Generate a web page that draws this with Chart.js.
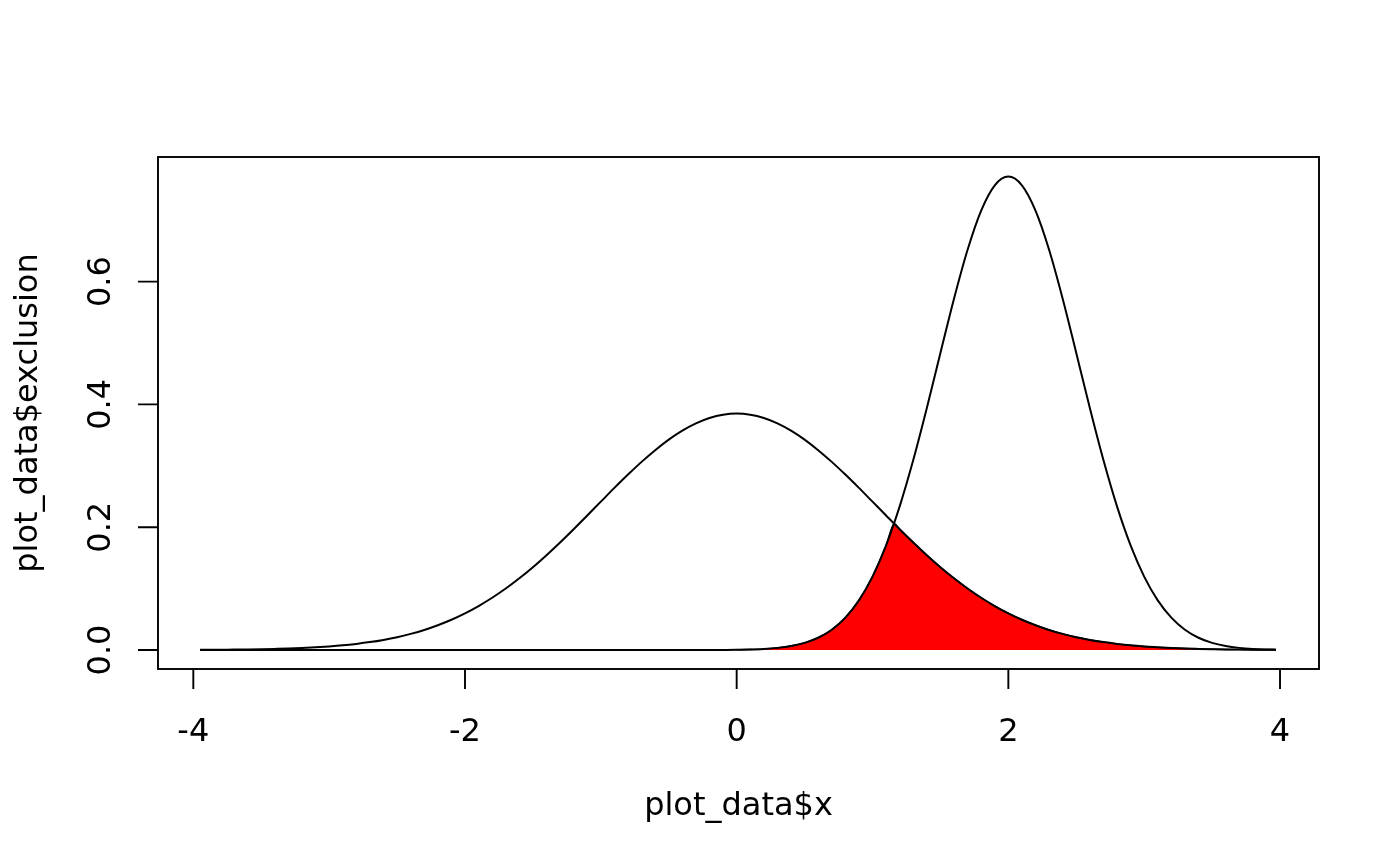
<!DOCTYPE html>
<html>
<head>
<meta charset="utf-8">
<title>plot_data$exclusion</title>
<script src="https://cdn.jsdelivr.net/npm/chart.js@4.4.1/dist/chart.umd.min.js"></script>
<style>
    html, body { margin: 0; padding: 0; background: #fff; }
    canvas { display: block; }
</style>
</head>
<body>
<canvas id="densityChart" width="1400" height="866"></canvas>
<script>
const xs = [
    -3.95, -3.9, -3.8, -3.7, -3.6, -3.5, -3.4, -3.3, -3.2, -3.1,
    -3.0, -2.9, -2.8, -2.7, -2.6, -2.5, -2.4, -2.3, -2.2, -2.1,
    -2.0, -1.9, -1.8, -1.7, -1.6, -1.5, -1.4, -1.3, -1.2, -1.1,
    -1.0, -0.9, -0.8, -0.7, -0.6, -0.5, -0.4, -0.3, -0.2, -0.1,
    0.0, 0.1, 0.2, 0.3, 0.4, 0.5, 0.6, 0.7, 0.8, 0.9,
    1.0, 1.1, 1.2, 1.3, 1.4, 1.5, 1.6, 1.7, 1.8, 1.9,
    2.0, 2.1, 2.2, 2.3, 2.4, 2.5, 2.6, 2.7, 2.8, 2.9,
    3.0, 3.1, 3.2, 3.3, 3.4, 3.5, 3.6, 3.7, 3.8, 3.9,
    3.97
];

// wide curve centred on 0
const wideCurve = [
    0.0003, 0.0003, 0.0005, 0.0007, 0.0009, 0.0013, 0.0018, 0.0024, 0.0033, 0.0044,
    0.0058, 0.0076, 0.0100, 0.0129, 0.0165, 0.0209, 0.0263, 0.0327, 0.0404, 0.0493,
    0.0597, 0.0716, 0.0851, 0.1001, 0.1168, 0.1349, 0.1545, 0.1752, 0.1968, 0.2191,
    0.2416, 0.2640, 0.2857, 0.3064, 0.3255, 0.3427, 0.3573, 0.3692, 0.3779, 0.3832,
    0.3850, 0.3832, 0.3779, 0.3692, 0.3573, 0.3427, 0.3255, 0.3064, 0.2857, 0.2640,
    0.2416, 0.2191, 0.1968, 0.1752, 0.1545, 0.1349, 0.1168, 0.1001, 0.0851, 0.0716,
    0.0597, 0.0493, 0.0404, 0.0327, 0.0263, 0.0209, 0.0165, 0.0129, 0.0100, 0.0076,
    0.0058, 0.0044, 0.0033, 0.0024, 0.0018, 0.0013, 0.0009, 0.0007, 0.0005, 0.0003,
    0.0003
];

// narrow curve centred on 2
const narrowCurve = [
    0, 0, 0, 0, 0, 0, 0, 0, 0, 0,
    0, 0, 0, 0, 0, 0, 0, 0, 0, 0,
    0, 0, 0, 0, 0, 0, 0, 0, 0, 0,
    0, 0, 0, 0, 0, 0, 0, 0, 0.0001, 0.0002,
    0.0004, 0.0009, 0.0018, 0.0035, 0.0065, 0.0116, 0.0200, 0.0330, 0.0527, 0.0808,
    0.1195, 0.1704, 0.2339, 0.3093, 0.3941, 0.4838, 0.5722, 0.6519, 0.7156, 0.7568,
    0.7710, 0.7568, 0.7156, 0.6519, 0.5722, 0.4838, 0.3941, 0.3093, 0.2339, 0.1704,
    0.1195, 0.0808, 0.0527, 0.0330, 0.0200, 0.0116, 0.0065, 0.0035, 0.0018, 0.0009,
    0.0006
];

// red overlap area (exclusion), with the crossing point at 1.16
const exclusionX = [
    0.0, 0.1, 0.2, 0.3, 0.4, 0.5, 0.6, 0.7, 0.8, 0.9, 1.0, 1.1, 1.16,
    1.2, 1.3, 1.4, 1.5, 1.6, 1.7, 1.8, 1.9,
    2.0, 2.1, 2.2, 2.3, 2.4, 2.5, 2.6, 2.7, 2.8, 2.9,
    3.0, 3.1, 3.2, 3.3, 3.4, 3.5, 3.6, 3.7, 3.8, 3.9, 3.97
];
const exclusionY = [
    0.0004, 0.0009, 0.0018, 0.0035, 0.0065, 0.0116, 0.0200, 0.0330, 0.0527, 0.0808, 0.1195, 0.1704, 0.2057,
    0.1968, 0.1752, 0.1545, 0.1349, 0.1168, 0.1001, 0.0851, 0.0716,
    0.0597, 0.0493, 0.0404, 0.0327, 0.0263, 0.0209, 0.0165, 0.0129, 0.0100, 0.0076,
    0.0058, 0.0044, 0.0033, 0.0024, 0.0018, 0.0013, 0.0009, 0.0007, 0.0005, 0.0003, 0.0003
];

// tick labels
const xTicks = [-4, -2, 0, 2, 4];
const yTicks = [0, 0.2, 0.4, 0.6];
const xTitle = 'plot_data$x';
const yTitle = 'plot_data$exclusion';

const FONT = '32px "DejaVu Sans", sans-serif';

function toPoints(xv, yv) {
    return xv.map((x, i) => ({ x: x, y: yv[i] }));
}

// R style box, ticks and labels
const baseAxes = {
    id: 'baseAxes',
    afterDraw(chart) {
        const ctx = chart.ctx;
        const area = chart.chartArea;
        const xScale = chart.scales.x;
        const yScale = chart.scales.y;

        ctx.save();
        ctx.strokeStyle = '#000';
        ctx.lineWidth = 1.9;
        ctx.strokeRect(area.left, area.top, area.right - area.left, area.bottom - area.top);

        // x axis ticks
        ctx.beginPath();
        xTicks.forEach(t => {
            const px = xScale.getPixelForValue(t);
            ctx.moveTo(px, area.bottom);
            ctx.lineTo(px, area.bottom + 20);
        });
        // y axis ticks
        yTicks.forEach(t => {
            const py = yScale.getPixelForValue(t);
            ctx.moveTo(area.left, py);
            ctx.lineTo(area.left - 20, py);
        });
        ctx.stroke();

        ctx.fillStyle = '#000';
        ctx.font = FONT;
        ctx.textAlign = 'center';
        ctx.textBaseline = 'alphabetic';
        xTicks.forEach(t => {
            ctx.fillText(String(t), xScale.getPixelForValue(t), 741);
        });
        ctx.fillText(xTitle, (area.left + area.right) / 2, 815);

        yTicks.forEach(t => {
            ctx.save();
            ctx.translate(110, yScale.getPixelForValue(t));
            ctx.rotate(-Math.PI / 2);
            ctx.fillText(t.toFixed(1), 0, 0);
            ctx.restore();
        });

        ctx.save();
        ctx.translate(37, (area.top + area.bottom) / 2);
        ctx.rotate(-Math.PI / 2);
        ctx.fillText(yTitle, 0, 0);
        ctx.restore();

        ctx.restore();
    }
};

const ctx = document.getElementById('densityChart').getContext('2d');

new Chart(ctx, {
    type: 'line',
    data: {
        datasets: [
            {
                label: 'wide',
                data: toPoints(xs, wideCurve),
                borderColor: '#000',
                borderWidth: 2,
                pointRadius: 0,
                fill: false,
                cubicInterpolationMode: 'monotone',
                order: 1
            },
            {
                label: 'narrow',
                data: toPoints(xs, narrowCurve),
                borderColor: '#000',
                borderWidth: 2,
                pointRadius: 0,
                fill: false,
                cubicInterpolationMode: 'monotone',
                order: 1
            },
            {
                label: 'exclusion',
                data: toPoints(exclusionX, exclusionY),
                borderColor: '#000',
                borderWidth: 1.4,
                backgroundColor: '#ff0000',
                pointRadius: 0,
                fill: 'origin',
                cubicInterpolationMode: 'monotone',
                order: 2
            }
        ]
    },
    options: {
        responsive: false,
        devicePixelRatio: 1,
        animation: false,
        layout: {
            padding: { left: 158, right: 81, top: 157, bottom: 197 }
        },
        plugins: {
            legend: { display: false },
            tooltip: { enabled: false },
            title: { display: false }
        },
        scales: {
            x: {
                type: 'linear',
                display: false,
                min: -4.26,
                max: 4.287
            },
            y: {
                type: 'linear',
                display: false,
                min: -0.0309,
                max: 0.8029
            }
        }
    },
    plugins: [baseAxes]
});
</script>
</body>
</html>
